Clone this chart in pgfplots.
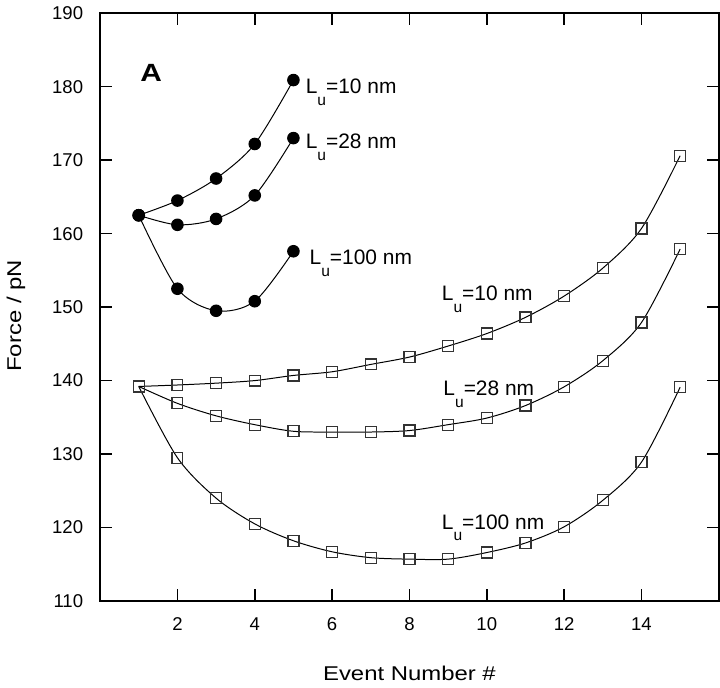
\documentclass[border=0pt]{standalone}
\usepackage{pgfplots}
\pgfplotsset{compat=1.18}
\usepackage{fontspec}
\setmainfont{Liberation Sans}
% axis titles of the original are set in a somewhat wider face
\newfontfamily\widefont{Liberation Sans}[FakeStretch=1.2]

% L with lowered subscript u
\newcommand{\Lu}[1]{L\raisebox{-6pt}{\fontsize{7.8}{8}\selectfont u}=#1 nm}

\begin{document}
\begin{tikzpicture}
\begin{axis}[
    scale only axis,
    width=310.5pt,
    height=295pt,
    xmin=0, xmax=16,
    ymin=110, ymax=190,
    xtick={2,4,...,14},
    ytick={110,120,...,190},
    tick align=inside,
    major tick length=6pt,
    axis line style={line width=1.2pt},
    every tick/.style={line width=0.8pt, black},
    tick label style={font=\fontsize{9.3}{10}\selectfont},
    /pgf/number format/assume math mode=true,
    xticklabel style={yshift=-5pt},
    yticklabel style={xshift=-5pt},
    xlabel={Event Number \#},
    ylabel={Force / pN},
    label style={font=\widefont\fontsize{10}{11}\selectfont},
    xlabel style={at={(axis description cs:0.5,-0.1356)}, anchor=base},
    ylabel style={at={(axis description cs:-0.136,0.485)}, anchor=center},
    clip=false,
]
% filled circles: L_u = 10, 28, 100 nm
\addplot[black, line width=0.5pt, smooth, mark=*, mark size=2.9pt] coordinates {
    (1,162.5) (2,164.5) (3,167.5) (4,172.2) (5,180.9)
};
\addplot[black, line width=0.5pt, smooth, mark=*, mark size=2.9pt] coordinates {
    (1,162.5) (2,161.2) (3,162.0) (4,165.2) (5,173.0)
};
\addplot[black, line width=0.5pt, smooth, mark=*, mark size=2.9pt] coordinates {
    (1,162.5) (2,152.5) (3,149.5) (4,150.8) (5,157.6)
};
% open squares: L_u = 10, 28, 100 nm
\addplot[black, line width=0.5pt, smooth, mark=square, mark size=2.75pt,
    mark options={line width=0.6pt, draw=black!80}] coordinates {
    (1,139.2) (2,139.4) (3,139.65) (4,140.0) (5,140.7) (6,141.2) (7,142.2) (8,143.2)
    (9,144.7) (10,146.4) (11,148.6) (12,151.5) (13,155.3) (14,160.7) (15,170.6)
};
\addplot[black, line width=0.5pt, smooth, mark=square, mark size=2.75pt,
    mark options={line width=0.6pt, draw=black!80}] coordinates {
    (1,139.2) (2,136.9) (3,135.2) (4,134.0) (5,133.1) (6,133.0) (7,133.0) (8,133.2)
    (9,134.0) (10,134.9) (11,136.6) (12,139.15) (13,142.7) (14,147.9) (15,157.9)
};
\addplot[black, line width=0.5pt, smooth, mark=square, mark size=2.75pt,
    mark options={line width=0.6pt, draw=black!80}] coordinates {
    (1,139.2) (2,129.5) (3,124.0) (4,120.5) (5,118.2) (6,116.7) (7,115.9) (8,115.7)
    (9,115.7) (10,116.6) (11,117.9) (12,120.1) (13,123.7) (14,128.9) (15,139.1)
};
\node[font=\widefont\fontsize{12.5}{13}\selectfont\bfseries] at (axis cs:1.32,181.9) {A};
\node[anchor=base west, inner sep=0pt, font=\fontsize{10.5}{11}\selectfont] at (axis cs:5.31,179.1) {\Lu{10}};
\node[anchor=base west, inner sep=0pt, font=\fontsize{10.5}{11}\selectfont] at (axis cs:5.31,171.6) {\Lu{28}};
\node[anchor=base west, inner sep=0pt, font=\fontsize{10.5}{11}\selectfont] at (axis cs:5.41,155.8) {\Lu{100}};
\node[anchor=base west, inner sep=0pt, font=\fontsize{10.5}{11}\selectfont] at (axis cs:8.83,150.9) {\Lu{10}};
\node[anchor=base west, inner sep=0pt, font=\fontsize{10.5}{11}\selectfont] at (axis cs:8.87,138.0) {\Lu{28}};
\node[anchor=base west, inner sep=0pt, font=\fontsize{10.5}{11}\selectfont] at (axis cs:8.83,119.8) {\Lu{100}};
\end{axis}
\end{tikzpicture}
\end{document}
